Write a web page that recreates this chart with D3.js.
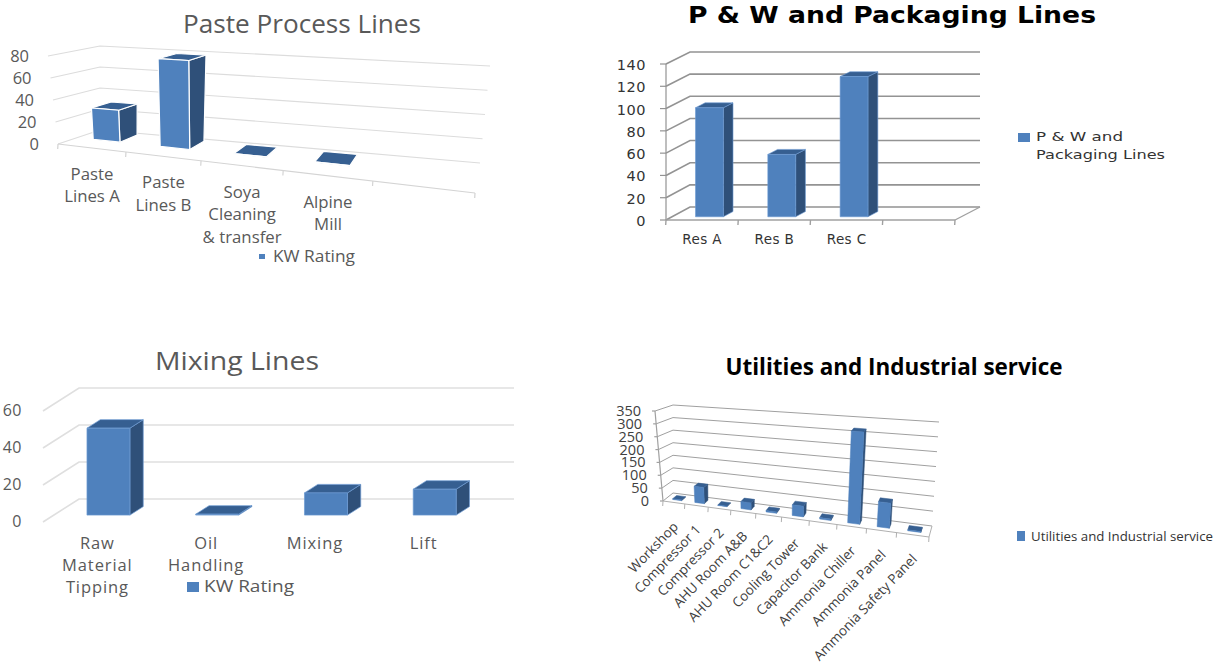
<!DOCTYPE html>
<html>
<head>
<meta charset="utf-8">
<script src="https://cdn.jsdelivr.net/npm/d3@7"></script>
<style>
  html, body { margin: 0; background: #fff; }
  svg { display: block; }
</style>
</head>
<body>
<svg id="chart" width="1220" height="666"></svg>
<script>
// paste process lines
const pasteCategories = [['Paste', 'Lines A'], ['Paste', 'Lines B'], ['Soya', 'Cleaning', '& transfer'], ['Alpine', 'Mill']];
const pasteValues = [29, 78, 0.5, 0.5];
const pasteTicks = [0, 20, 40, 60, 80];

// P & W and packaging
const packagingCategories = [['Res A'], ['Res B'], ['Res C']];
const packagingValues = [98, 56, 126];
const packagingTicks = [0, 20, 40, 60, 80, 100, 120, 140];

// mixing lines
const mixingCategories = [['Raw', 'Material', 'Tipping'], ['Oil', 'Handling'], ['Mixing'], ['Lift']];
const mixingValues = [47, 0.5, 12, 14];
const mixingTicks = [0, 20, 40, 60];

// utilities
const utilityCategories = [['Workshop'], ['Compressor 1'], ['Compressor 2'], ['AHU Room A&B'], ['AHU Room C1&C2'],
    ['Cooling Tower'], ['Capacitor Bank'], ['Ammonia Chiller'], ['Ammonia Panel'], ['Ammonia Safety Panel']];
const utilityValues = [3, 62, 2, 26, 5, 38, 5, 318, 85, 3];
const utilityTicks = [0, 50, 100, 150, 200, 250, 300, 350];

const FRONT = '#4f81bd', SIDE = '#2f5079', TOP = '#365f91', INK = '#595959';

const svg = d3.select('#chart');
const outline = d3.line();
const mix = (a, b, t) => [a[0] + (b[0] - a[0]) * t, a[1] + (b[1] - a[1]) * t];

function label(g, x, y, str, o) {
    const t = g.append('text')
        .attr('x', x).attr('y', y)
        .attr('fill', o.fill || INK)
        .attr('font-family', o.family || 'Open Sans')
        .attr('font-size', o.size)
        .attr('font-weight', o.weight || 400)
        .attr('text-anchor', o.anchor || 'middle')
        .text(str);
    if (o.spacing) t.attr('letter-spacing', o.spacing);
    if (o.fit) t.attr('textLength', o.fit).attr('lengthAdjust', 'spacingAndGlyphs');
    if (o.rotate) t.attr('transform', `rotate(${o.rotate} ${x} ${y})`);
    return t;
}

function drawChart(c) {
    const g = svg.append('g');
    const n = c.slots.length - 1;
    const uScale = d3.scaleLinear().domain(d3.range(n + 1)).range(c.slots);
    const vScale = d3.scaleLinear().domain([0, c.max]).range([0, 1]);

    // trilinear map of the plot box: u along the axis, v up, w into the chart
    const project = (u, v, w) => {
        const floor = mix(mix(c.box.fl0, c.box.fr0, u), mix(c.box.bl0, c.box.br0, u), w);
        const roof = mix(mix(c.box.fl1, c.box.fr1, u), mix(c.box.bl1, c.box.br1, u), w);
        return mix(floor, roof, v);
    };
    const line = (pts, stroke, width) => g.append('path')
        .attr('d', outline(pts))
        .attr('fill', 'none')
        .attr('stroke', stroke)
        .attr('stroke-width', width);

    // walls
    c.ticks.forEach(t => {
        const v = vScale(t);
        const p = project(0, v, 0);
        line([project(0, v, 0), project(0, v, 1), project(1, v, 1)], c.grid, c.gridWidth);
        if (c.stub) line([[p[0] - c.stub, p[1]], p], c.grid, 1.2);
        label(g, p[0] - c.tickLabel.dx, p[1] + c.tickLabel.dy, t, { ...c.tickLabel, anchor: 'end' });
    });
    if (c.leftEdge) line([project(0, 0, 0), project(0, 1, 0)], c.grid, 1.2);

    // floor and axis ticks
    if (c.floorEdge) {
        line([project(0, 0, 0), project(1, 0, 0)], c.axis, c.axisWidth);
        if (c.rightEdge) line([project(1, 0, 0), project(1, 0, 1)], c.axis, c.axisWidth);
        d3.range(n + 1).forEach(i => {
            const p = project(uScale(i), 0, 0);
            line([p, [p[0] - 0.3, p[1] + c.tickLen]], c.axis, c.axisWidth);
        });
    }

    // bars, side and top first so the front face sits on them
    c.values.forEach((value, i) => {
        const a = uScale(i + c.bar.a), b = uScale(i + c.bar.b);
        const w0 = c.bar.w0, w1 = c.bar.w1, v = vScale(value);
        const faces = [
            [SIDE, [[b, 0, w0], [b, 0, w1], [b, v, w1], [b, v, w0]]],
            [TOP, [[a, v, w0], [b, v, w0], [b, v, w1], [a, v, w1]]],
            [FRONT, [[a, 0, w0], [b, 0, w0], [b, v, w0], [a, v, w0]]]
        ];
        faces.forEach(([fill, pts]) => {
            g.append('path')
                .attr('d', outline(pts.map(p => project(...p))) + 'Z')
                .attr('fill', fill)
                .attr('stroke', c.bar.stroke || fill)
                .attr('stroke-width', c.bar.strokeWidth || 0.5)
                .attr('stroke-linejoin', 'round');
        });
    });

    // category labels
    c.categories.forEach((lines, i) => {
        const p = project(uScale(i + 0.5), 0, 0);
        const o = c.catLabel;
        lines.forEach((str, k) => {
            label(g, p[0] + (o.dx || 0), (o.baseY !== undefined ? o.baseY : p[1] + o.dy) + k * (o.lead || 0), str, o);
        });
    });

    label(g, c.title.x, c.title.y, c.title.text, c.title);

    // legend
    g.append('rect')
        .attr('x', c.legend.x).attr('y', c.legend.y)
        .attr('width', c.legend.w).attr('height', c.legend.h)
        .attr('fill', FRONT);
    c.legend.lines.forEach((str, k) => {
        label(g, c.legend.textX, c.legend.textY + k * (c.legend.lead || 0), str, { ...c.legend, anchor: 'start', fit: c.legend.fit && c.legend.fit[k] });
    });
}

drawChart({
    categories: pasteCategories, values: pasteValues, ticks: pasteTicks, max: 80,
    slots: [0, 0.163, 0.343, 0.54, 0.755, 1],
    box: { fl0: [58, 144], fr0: [475, 193], bl0: [100, 130], br0: [480, 163],
           fl1: [48, 56], fr1: [486, 83], bl1: [100, 46], br1: [490, 66] },
    grid: '#dcdcdc', gridWidth: 1.2, axis: '#d4d4d4', axisWidth: 1.2, tickLen: 5, floorEdge: true,
    tickLabel: { dx: 19, dy: 6, size: 16.5 },
    bar: { a: 0.25, b: 0.66, w0: 0.45, w1: 0.9, stroke: '#fff', strokeWidth: 1.2 },
    catLabel: { dy: 32, lead: 22.5, size: 16.8 },
    title: { text: 'Paste Process Lines', x: 302, y: 33, size: 25, fit: 238 },
    legend: { x: 259, y: 254, w: 6, h: 5, textX: 273, textY: 262, size: 15.5, lines: ['KW Rating'], fit: [82] }
});

drawChart({
    categories: packagingCategories, values: packagingValues, ticks: packagingTicks, max: 140,
    slots: [0, 0.25, 0.5, 0.75, 1],
    box: { fl0: [666, 220], fr0: [955, 220], bl0: [690, 207], br0: [980, 207],
           fl1: [666, 64], fr1: [955, 64], bl1: [690, 52], br1: [980, 52] },
    grid: '#939393', gridWidth: 1.6, axis: '#a0a0a0', axisWidth: 1.4, tickLen: 5, floorEdge: true, rightEdge: true, leftEdge: true, stub: 6,
    tickLabel: { dx: 20, dy: 6, size: 14.5, family: 'DejaVu Sans', fill: '#333', spacing: 0.5 },
    bar: { a: 0.325, b: 0.71, w0: 0.25, w1: 0.65, stroke: '#6d9bd3', strokeWidth: 0.6 },
    catLabel: { baseY: 244, size: 13.5, family: 'DejaVu Sans', fill: '#333', spacing: 0.4 },
    title: { text: 'P & W and Packaging Lines', x: 892, y: 23, size: 23, weight: 700, family: 'DejaVu Sans', fill: '#000', fit: 408 },
    legend: { x: 1018, y: 133, w: 12, h: 9, textX: 1036, textY: 141, lead: 18, size: 13, family: 'DejaVu Sans', fill: '#333', lines: ['P & W and', 'Packaging Lines'], fit: [87, 129] }
});

drawChart({
    categories: mixingCategories, values: mixingValues, ticks: mixingTicks, max: 60,
    slots: [0, 0.25, 0.5, 0.75, 1],
    box: { fl0: [43, 522], fr0: [478, 522], bl0: [79, 499], br0: [514, 499],
           fl1: [43, 411], fr1: [478, 411], bl1: [79, 388], br1: [514, 388] },
    grid: '#dfdfdf', gridWidth: 1.6,
    tickLabel: { dx: 21, dy: 5, size: 16, spacing: 0.5 },
    bar: { a: 0.305, b: 0.70, w0: 0.3, w1: 0.67, stroke: '#6d9bd3', strokeWidth: 0.7 },
    catLabel: { baseY: 549, lead: 22, size: 16.5, spacing: 0.9 },
    title: { text: 'Mixing Lines', x: 237, y: 370, size: 25, fit: 164 },
    legend: { x: 187, y: 582, w: 12, h: 10, textX: 204, textY: 592, size: 16, lines: ['KW Rating'], fit: [90] }
});

drawChart({
    categories: utilityCategories, values: utilityValues, ticks: utilityTicks, max: 350,
    slots: [0, 0.082, 0.17, 0.255, 0.349, 0.446, 0.55, 0.654, 0.765, 0.878, 1],
    box: { fl0: [663, 501], fr0: [929, 537], bl0: [673, 493], br0: [932, 526],
           fl1: [655, 411], fr1: [938, 430], bl1: [673, 405], br1: [939, 422] },
    grid: '#a0a0a0', gridWidth: 1, axis: '#b0b0b0', axisWidth: 1, tickLen: 5, floorEdge: true, rightEdge: true, leftEdge: true, stub: 3,
    tickLabel: { dx: 14, dy: 5, size: 14.5, fill: '#404040' },
    bar: { a: 0.31, b: 0.72, w0: 0.3, w1: 0.7 },
    catLabel: { dy: 25, dx: 5, size: 13.5, anchor: 'end', rotate: -46, fill: '#404040' },
    title: { text: 'Utilities and Industrial service', x: 894, y: 375, size: 23, weight: 700, fill: '#000', fit: 337 },
    legend: { x: 1017, y: 531, w: 8, h: 10, textX: 1031, textY: 541, size: 13.5, fill: '#333', lines: ['Utilities and Industrial service'], fit: [182] }
});
</script>
</body>
</html>
